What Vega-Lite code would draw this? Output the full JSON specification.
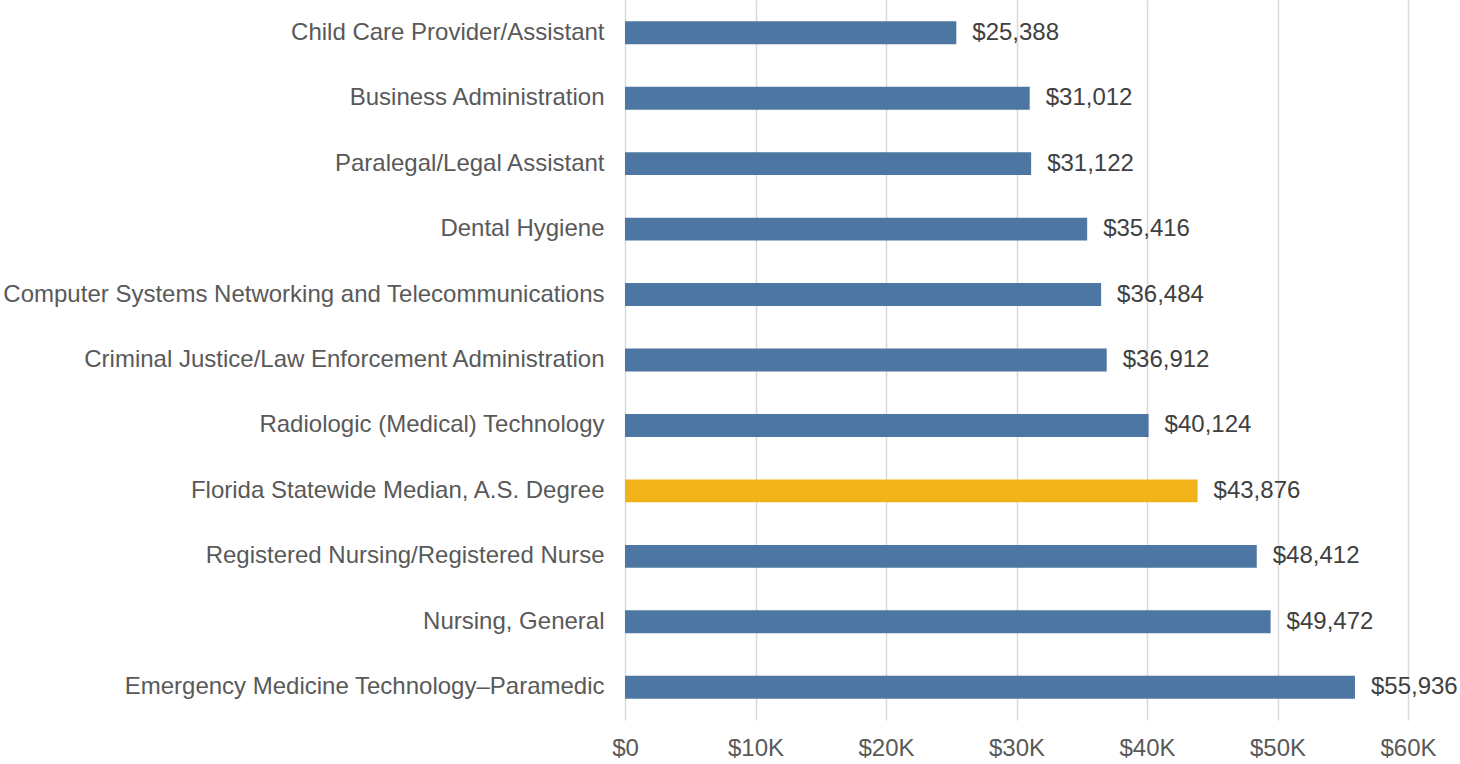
{
  "$schema": "https://vega.github.io/schema/vega-lite/v6.json",
  "autosize": "none",
  "width": 783,
  "height": 720,
  "padding": {"left": 625, "top": 0, "right": 52, "bottom": 44},
  "background": "white",
  "config": {
    "view": {"stroke": null},
    "font": "Liberation Sans"
  },
  "data": {
    "values": [
      {"program": "Child Care Provider/Assistant", "salary": 25388, "group": "program"},
      {"program": "Business Administration", "salary": 31012, "group": "program"},
      {"program": "Paralegal/Legal Assistant", "salary": 31122, "group": "program"},
      {"program": "Dental Hygiene", "salary": 35416, "group": "program"},
      {"program": "Computer Systems Networking and Telecommunications", "salary": 36484, "group": "program"},
      {"program": "Criminal Justice/Law Enforcement Administration", "salary": 36912, "group": "program"},
      {"program": "Radiologic (Medical) Technology", "salary": 40124, "group": "program"},
      {"program": "Florida Statewide Median, A.S. Degree", "salary": 43876, "group": "median"},
      {"program": "Registered Nursing/Registered Nurse", "salary": 48412, "group": "program"},
      {"program": "Nursing, General", "salary": 49472, "group": "program"},
      {"program": "Emergency Medicine Technology\u2013Paramedic", "salary": 55936, "group": "program"}
    ]
  },
  "encoding": {
    "y": {
      "field": "program",
      "type": "nominal",
      "sort": null,
      "scale": {"paddingInner": 0.65, "paddingOuter": 0.325},
      "axis": {
        "title": null,
        "domain": false,
        "ticks": false,
        "labelFontSize": 24,
        "labelColor": "#595959",
        "labelPadding": 21,
        "labelLimit": 700,
        "labelFont": "Liberation Sans"
      }
    },
    "x": {
      "field": "salary",
      "type": "quantitative",
      "scale": {"domain": [0, 60000], "nice": false},
      "axis": {
        "title": null,
        "domain": false,
        "ticks": false,
        "values": [0, 10000, 20000, 30000, 40000, 50000, 60000],
        "labelExpr": "datum.value == 0 ? '$0' : '$' + (datum.value/1000) + 'K'",
        "labelFontSize": 24,
        "labelColor": "#595959",
        "labelPadding": 16,
        "labelFlush": false,
        "labelFont": "Liberation Sans",
        "grid": true,
        "gridColor": "#d9d9d9",
        "gridWidth": 1.5
      }
    }
  },
  "layer": [
    {
      "mark": {"type": "bar"},
      "encoding": {
        "color": {
          "field": "group",
          "type": "nominal",
          "scale": {"domain": ["program", "median"], "range": ["#4E76A2", "#F0B31A"]},
          "legend": null
        }
      }
    },
    {
      "mark": {"type": "text", "align": "left", "baseline": "middle", "dx": 16, "fontSize": 24, "color": "#404040", "font": "Liberation Sans"},
      "encoding": {
        "text": {"field": "salary", "type": "quantitative", "format": "$,.0f"}
      }
    }
  ]
}
